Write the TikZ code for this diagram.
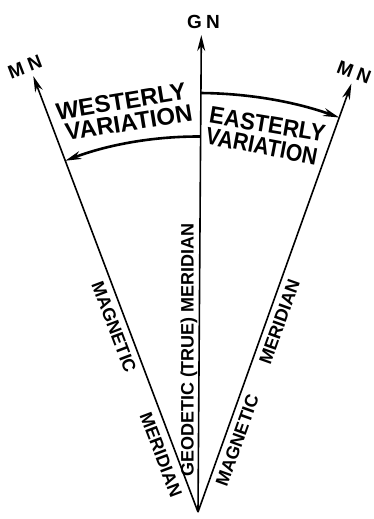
\documentclass[tikz,border=0pt]{standalone}
\usepackage{fontspec}
\setmainfont{Liberation Sans}
\usetikzlibrary{arrows.meta}

\begin{document}
\begin{tikzpicture}[x=1pt, y=1pt, line join=round,
    mer/.style={line width=1.6pt, -{Stealth[length=16pt, width=8pt, inset=5pt]}},
    var/.style={line width=2.6pt, -{Stealth[length=16pt, width=8pt, inset=5pt]}},
    lbl/.style={font=\fontsize{18}{18}\selectfont\bfseries, inner sep=0pt},
    big/.style={font=\fontsize{24}{24}\selectfont\bfseries, inner sep=0pt},
    nth/.style={font=\fontsize{19}{19}\selectfont\bfseries, inner sep=0pt}]
  \useasboundingbox (-198,-7) rectangle (176,512);
  \coordinate (o) at (0,0);
  \coordinate (gn) at (89.6:477);
  \coordinate (mnw) at (110.7:466);
  \coordinate (mne) at (70.3:455);
  \coordinate (ea) at (89.6:419);
  \coordinate (wa) at (89.6:375.5);
  \draw[mer] (o) -- (gn);
  \draw[mer] (o) -- (mnw);
  \draw[mer] (o) -- (mne);
  \draw[var] (ea) arc[start angle=89.6, end angle=70.3, radius=419pt];
  \draw[var] (wa) arc[start angle=89.6, end angle=110.7, radius=375.5pt];
  \node[nth] (gnlbl) at (5.5,490.5) {G\hspace{4pt}N};
  \node[nth, rotate=21] (mnwlbl) at (-173,445) {M\hspace{5pt}N};
  \node[nth, rotate=-20.6] (mnelbl) at (156,440) {M\hspace{5pt}N};
  % variation texts along the arcs
  \node[big, rotate=9.3] (west1) at (-77,410.5) {WESTERLY};
  \node[big, rotate=9.2] (west2) at (-69.3,389.5) {VARIATION};
  \node[big, rotate=-9.5, xscale=0.93] (east1) at (69.5,387.5) {EASTERLY};
  \node[big, rotate=-10.9, xscale=0.88] (east2) at (63.7,365.7) {VARIATION};
  % meridian names
  \node[lbl, rotate=-69.3] (wmag) at (-84,185) {MAGNETIC};
  \node[lbl, rotate=-69.3] (wmer) at (-37,57) {MERIDIAN};
  \node[lbl, rotate=90] (gtm) at (-9,162) {GEODETIC (TRUE) MERIDIAN};
  \node[lbl, rotate=70.3] (emag) at (39.3,71.3) {MAGNETIC};
  \node[lbl, rotate=70.3] (emer) at (81.5,190.3) {MERIDIAN};
\end{tikzpicture}
\end{document}
